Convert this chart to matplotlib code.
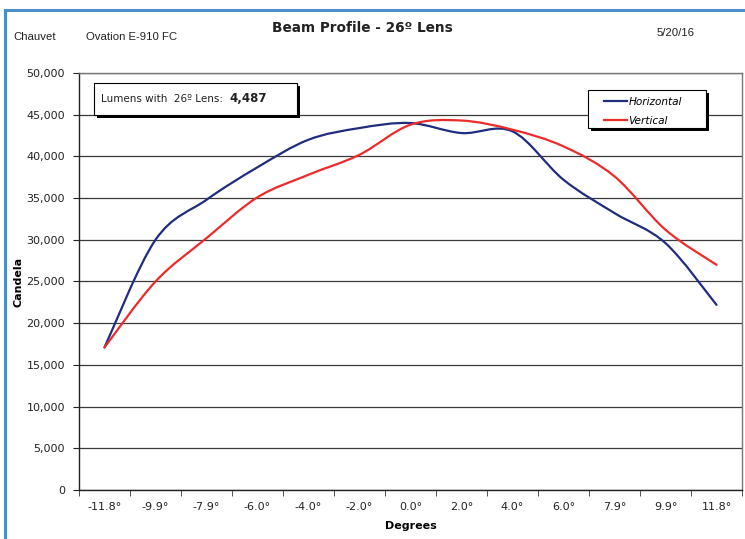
import numpy as np
import matplotlib.pyplot as plt
from matplotlib.path import Path
from matplotlib.patches import PathPatch, Rectangle
from matplotlib.lines import Line2D
from matplotlib.ticker import FuncFormatter, MultipleLocator

# data
degrees = ['-11.8°', '-9.9°', '-7.9°', '-6.0°', '-4.0°', '-2.0°', '0.0°',
           '2.0°', '4.0°', '6.0°', '7.9°', '9.9°', '11.8°']
horizontal = [17100, 30000, 34800, 38700, 42000, 43400, 44000,
              42800, 43000, 37200, 33200, 29600, 22200]
vertical = [17100, 25000, 30200, 35100, 37800, 40200, 43800,
            44300, 43200, 41200, 37600, 31200, 27000]
lumens = '4,487'

blue = '#202c7e'
red = '#ee2b2b'


def smooth_path(xs, ys):
    # Excel style smoothed line: cubic bezier through every point
    pts = np.column_stack([xs, ys]).astype(float)
    n = len(pts)
    verts = [pts[0]]
    codes = [Path.MOVETO]
    for i in range(n - 1):
        p0 = pts[i - 1] if i > 0 else pts[i]
        p1 = pts[i]
        p2 = pts[i + 1]
        p3 = pts[i + 2] if i + 2 < n else pts[i + 1]
        verts += [p1 + (p2 - p0) / 6, p2 - (p3 - p1) / 6, p2]
        codes += [Path.CURVE4] * 3
    return Path(verts, codes)


def shadow_box(x0, y0, x1, y1):
    # white box with a black drop shadow, pixel coords from the top left
    ax.add_patch(Rectangle((x0 / W + 3 / W, 1 - (y1 + 3) / H), (x1 - x0) / W, (y1 - y0) / H,
                           transform=fig.transFigure, facecolor='black', edgecolor='none',
                           zorder=5, clip_on=False))
    ax.add_patch(Rectangle((x0 / W, 1 - y1 / H), (x1 - x0) / W, (y1 - y0) / H,
                           transform=fig.transFigure, facecolor='white', edgecolor='black',
                           lw=0.8, zorder=6, clip_on=False))


W, H = 745, 539
fig = plt.figure(figsize=(W / 100, H / 100), dpi=100)
ax = fig.add_axes([79 / W, (H - 490) / H, (742 - 79) / W, (490 - 73) / H])

x = np.arange(len(degrees))
for vals, col in [(horizontal, blue), (vertical, red)]:
    ax.add_patch(PathPatch(smooth_path(x, vals), fill=False, edgecolor=col,
                           lw=1.6, capstyle='round', joinstyle='round', zorder=3))

ax.set_xlim(-0.5, len(degrees) - 0.5)
ax.set_ylim(0, 50000)
ax.yaxis.set_major_locator(MultipleLocator(5000))
ax.yaxis.set_major_formatter(FuncFormatter(lambda v, p: f'{int(v):,}'))
ax.grid(axis='y', color='#3a3a3a', lw=0.9)
ax.set_axisbelow(True)

ax.set_xticks(x)
ax.set_xticklabels(degrees)
ax.set_xticks(np.arange(-0.5, len(degrees), 1), minor=True)
ax.tick_params(axis='x', which='major', length=0, pad=9, labelsize=8, colors='#222222')
ax.tick_params(axis='x', which='minor', length=4, direction='out', color='#333333')
ax.tick_params(axis='y', length=4, direction='out', labelsize=8, pad=6, colors='#222222')

for s in ['left', 'bottom']:
    ax.spines[s].set_color('#222222')
    ax.spines[s].set_linewidth(1.0)
for s in ['top', 'right']:
    ax.spines[s].set_color('#777777')
    ax.spines[s].set_linewidth(1.0)

ax.set_xlabel('Degrees', fontsize=8, fontweight='bold', labelpad=6)
ax.set_ylabel('Candela', fontsize=8, fontweight='bold', labelpad=2)

# legend: own frame with shadow, entries drawn by ax.legend
shadow_box(588, 90, 706, 128)
handles = [Line2D([], [], color=blue, lw=1.6, label='Horizontal'),
           Line2D([], [], color=red, lw=1.6, label='Vertical')]
leg = ax.legend(handles=handles, loc='upper left',
                bbox_to_anchor=(604 / W, 1 - 97 / H), bbox_transform=fig.transFigure,
                frameon=False, prop={'size': 7.6, 'style': 'italic'},
                handlelength=2.2, handletextpad=0.1, labelspacing=0.85,
                borderpad=0, borderaxespad=0)
leg.set_zorder(8)

# lumens box
shadow_box(94, 83, 297, 115)
fig.text(101 / W, 1 - 99 / H, 'Lumens with  26º Lens:', fontsize=7.5, va='center',
         color='#222222', zorder=7)
fig.text(229 / W, 1 - 98 / H, lumens, fontsize=8.5, fontweight='bold', va='center',
         color='#222222', zorder=7)

# header
fig.text(362 / W, 1 - 28 / H, 'Beam Profile - 26º Lens', fontsize=9.8, fontweight='bold',
         ha='center', va='center', color='#222222')
fig.text(13 / W, 1 - 37 / H, 'Chauvet', fontsize=8.2, va='center',
         family='Liberation Sans', color='#222222')
fig.text(86 / W, 1 - 37 / H, 'Ovation E-910 FC', fontsize=8.2, va='center',
         family='Liberation Sans', color='#222222')
fig.text(657 / W, 1 - 33 / H, '5/20/16', fontsize=8.2, va='center',
         family='Liberation Sans', color='#222222')

# blue outer frame
frame = '#4a8fca'
fig.add_artist(Line2D([5 / W, 5 / W], [0, 1 - 10 / H], transform=fig.transFigure,
                      color=frame, lw=2.2))
fig.add_artist(Line2D([5 / W, 1], [1 - 10 / H, 1 - 10 / H], transform=fig.transFigure,
                      color=frame, lw=2.2))

fig.savefig('out.png', dpi=100)
